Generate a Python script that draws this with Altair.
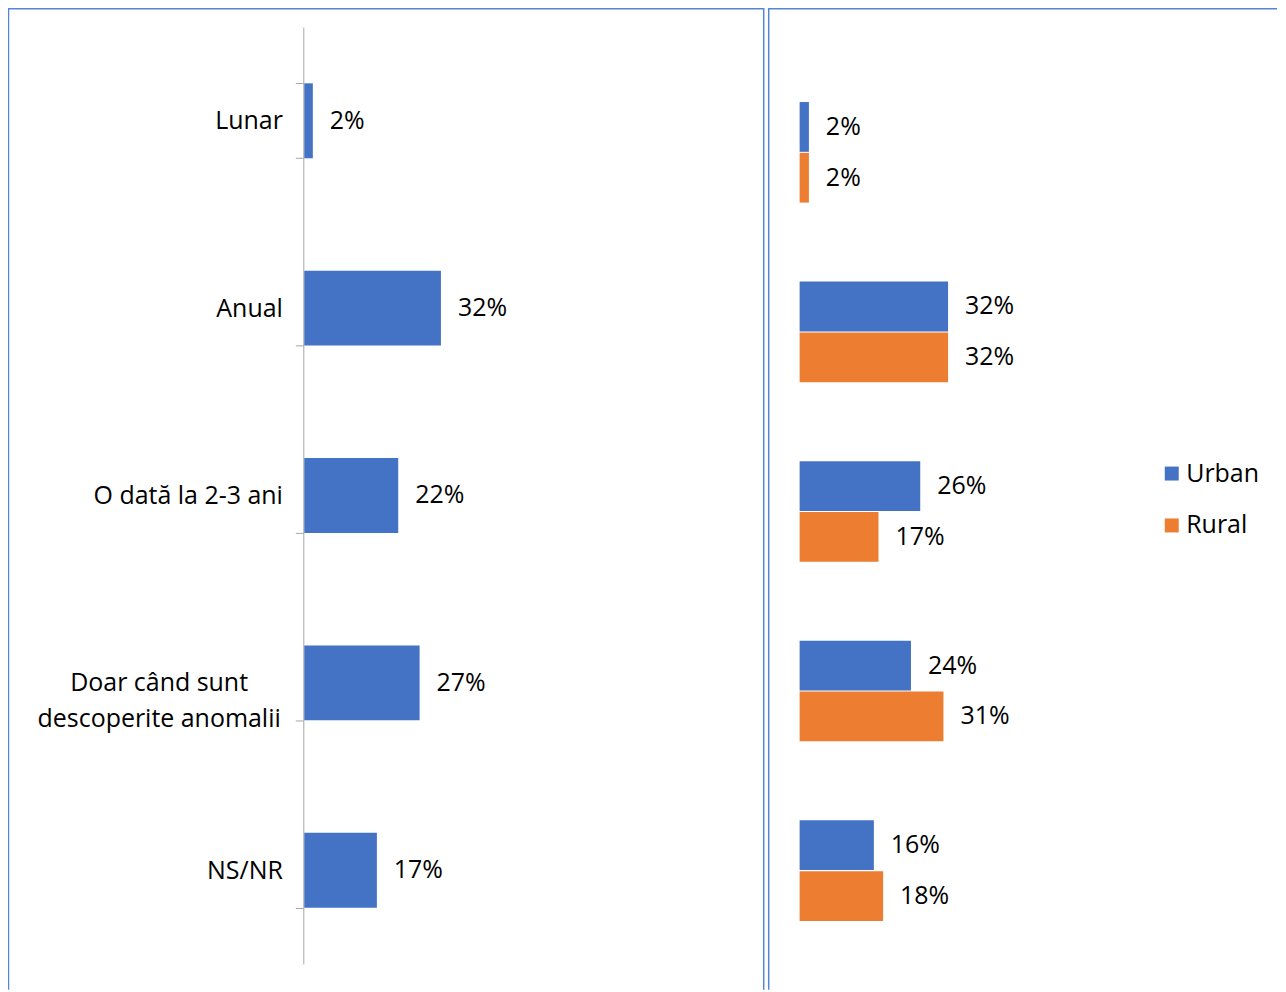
import altair as alt
import pandas as pd

categories = ["Lunar", "Anual", "O dată la 2-3 ani", "Doar când sunt descoperite anomalii", "NS/NR"]
total_values = [2, 32, 22, 27, 17]
series = ["Urban", "Rural"]
urban_values = [2, 32, 26, 24, 16]
rural_values = [2, 32, 17, 31, 18]

FONT = "Open Sans"
FS = 25
BLUE = "#4472C4"
ORANGE = "#ED7D31"
BORDER = "#5585d6"
AXIS = "#a6a6a6"
H = 984
LW = 758
RW = 510
MULTI = "Doar când sunt descoperite anomalii"

left_df = pd.DataFrame({"cat": categories, "val": total_values})
left_df["lbl"] = [f"{v}%" for v in total_values]

right_df = pd.DataFrame({
    "cat": categories * 2,
    "serie": [series[0]] * len(categories) + [series[1]] * len(categories),
    "val": urban_values + rural_values,
})
right_df["lbl"] = [f"{v}%" for v in right_df["val"]]

frame_df = pd.DataFrame({"k": [0]})

cond_test = f"datum.value === '{MULTI}'"

y_left = alt.Y(
    "cat:N", sort=categories,
    scale=alt.Scale(range=[19, 958], paddingInner=0.6, paddingOuter=0.3),
    axis=alt.Axis(
        title=None, offset=-296, domainColor=AXIS, tickColor=AXIS, tickSize=8,
        tickBand="extent", labelFont=FONT, labelFontSize=FS, labelColor="black",
        labelPadding={"condition": {"test": cond_test, "value": 137}, "value": 13},
        labelAlign={"condition": {"test": cond_test, "value": "center"}, "value": "right"},
        labelExpr=f"{cond_test} ? ['Doar când sunt', 'descoperite anomalii'] : datum.value",
        labelLineHeight=36, labelLimit=500, labelOverlap=False, grid=False,
    ),
)
x_left = alt.X("val:Q", scale=alt.Scale(domain=[0, 100], range=[297, 725]), axis=None)

left_base = alt.Chart(left_df)
left_bars = left_base.mark_bar(color=BLUE).encode(x=x_left, y=y_left)
left_text = left_base.mark_text(
    align="left", baseline="middle", dx=17, font=FONT, fontSize=FS, color="black"
).encode(x=x_left, y=alt.Y("cat:N", sort=categories), text="lbl:N")

def borders(width, right_edge):
    fb = alt.Chart(frame_df)
    layers = [
        fb.mark_rule(color=BORDER, strokeWidth=1.5).encode(
            x=alt.value(0.5), y=alt.value(0), y2=alt.value(H)),
        fb.mark_rule(color=BORDER, strokeWidth=1.5).encode(
            x=alt.value(0), x2=alt.value(width), y=alt.value(0.5)),
    ]
    if right_edge:
        layers.append(fb.mark_rule(color=BORDER, strokeWidth=1.5).encode(
            x=alt.value(width - 0.5), y=alt.value(0), y2=alt.value(H)))
    return layers

left = alt.layer(left_bars, left_text, *borders(LW, True)).properties(width=LW, height=H)

y_right = alt.Y("cat:N", sort=categories,
                scale=alt.Scale(range=[54.5, 954.5], paddingInner=0.44, paddingOuter=0.22),
                axis=None)
yoff = alt.YOffset("serie:N", sort=series, scale=alt.Scale(paddingInner=0.02))
x_right = alt.X("val:Q", scale=alt.Scale(domain=[0, 100], range=[31.5, 496.5]), axis=None)

right_base = alt.Chart(right_df)
right_bars = right_base.mark_bar().encode(
    x=x_right, y=y_right, yOffset=yoff,
    color=alt.Color("serie:N", sort=series,
                    scale=alt.Scale(domain=series, range=[BLUE, ORANGE]),
                    legend=alt.Legend(
                        title=None, orient="none", legendX=1154, legendY=454,
                        symbolType="square", symbolSize=196, symbolStrokeWidth=0,
                        labelFont=FONT, labelFontSize=FS, labelColor="black",
                        labelOffset=2, rowPadding=26, padding=0)),
)
right_text = right_base.mark_text(
    align="left", baseline="middle", dx=17, font=FONT, fontSize=FS, color="black"
).encode(x=x_right, y=y_right, yOffset=yoff, text="lbl:N")

right = alt.layer(right_bars, right_text, *borders(RW, False)).properties(width=RW, height=H)

chart = alt.hconcat(left, right, spacing=2).properties(
    padding={"top": -13, "left": -1, "right": 0, "bottom": 0}
).configure_view(stroke=None)

chart.save("out.html", embed_options={"renderer": "svg", "actions": False})
